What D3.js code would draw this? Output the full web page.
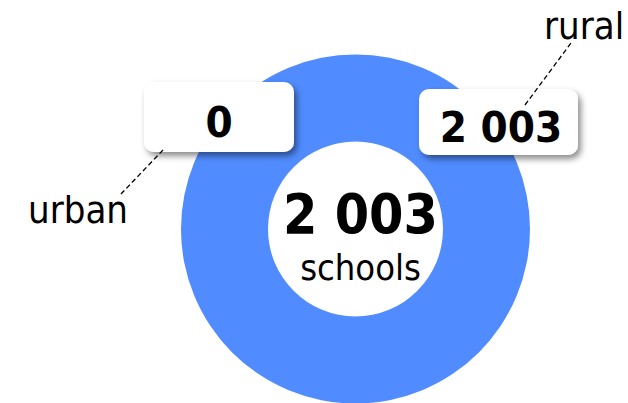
<!DOCTYPE html>
<html>
<head>
<meta charset="utf-8">
<script src="https://cdn.jsdelivr.net/npm/d3@7"></script>
<style>
  html, body { margin: 0; padding: 0; background: #fff; }
  svg { display: block; }
  text { font-family: "DejaVu Sans Condensed", "DejaVu Sans", sans-serif; font-stretch: condensed; }
</style>
</head>
<body>
<div id="chart"></div>
<script>
// data
const categories = ['urban', 'rural'];
const values = [0, 2003];
const unitLabel = 'schools';

const width = 628;
const height = 403;

// layout of the label callouts (box rect, text baseline, leader line, category text)
const callouts = {
  urban: { box: [144, 82, 150, 70], textY: 136.7, line: [[163, 150], [121, 194]], name: [128, 223, 'end'] },
  rural: { box: [419, 89, 159, 66], textY: 141.7, line: [[525, 105], [571, 43]], name: [544, 38.5, 'start'] }
};

const fmt = d3.formatLocale({ decimal: '.', thousands: ' ', grouping: [3], currency: ['', ''] }).format(',');

const svg = d3.select('#chart')
  .append('svg')
  .attr('width', width)
  .attr('height', height);

// drop shadow for the value boxes
const filter = svg.append('defs').append('filter')
  .attr('id', 'shadow')
  .attr('x', '-20%').attr('y', '-20%')
  .attr('width', '140%').attr('height', '160%');
filter.append('feDropShadow')
  .attr('dx', 3).attr('dy', 4)
  .attr('stdDeviation', 3)
  .attr('flood-color', '#000')
  .attr('flood-opacity', 0.45);

const cx = 355.5, cy = 229;
const outerR = 174.5, innerR = 87.5;

const color = d3.scaleOrdinal()
  .domain(categories)
  .range(['#8fb4ff', '#508cff']);

const pie = d3.pie().sort(null).value(d => d.value);
const arc = d3.arc().innerRadius(innerR).outerRadius(outerR);

const slices = pie(categories.map((c, i) => ({ name: c, value: values[i] })));

const g = svg.append('g').attr('transform', `translate(${cx},${cy})`);

g.selectAll('path')
  .data(slices)
  .enter().append('path')
  .attr('d', arc)
  .attr('fill', d => color(d.data.name));

// total in the middle
const total = d3.sum(values);
g.append('text')
  .attr('x', 5)
  .attr('y', 3.7)
  .attr('text-anchor', 'middle')
  .style('font-size', '55px')
  .style('font-weight', 'bold')
  .text(fmt(total));

g.append('text')
  .attr('x', 5)
  .attr('y', 51)
  .attr('text-anchor', 'middle')
  .style('font-size', '36px')
  .text(unitLabel);

// callouts
slices.forEach(s => {
  const c = callouts[s.data.name];
  const [bx, by, bw, bh] = c.box;

  svg.append('rect')
    .attr('x', bx).attr('y', by)
    .attr('width', bw).attr('height', bh)
    .attr('rx', 10).attr('ry', 10)
    .attr('fill', '#fff')
    .attr('filter', 'url(#shadow)');

  svg.append('text')
    .attr('x', bx + bw / 2 + (s.data.name === 'rural' ? 2.5 : 0))
    .attr('y', c.textY)
    .attr('text-anchor', 'middle')
    .style('font-size', '43.5px')
    .style('font-weight', 'bold')
    .text(fmt(s.data.value));

  svg.append('line')
    .attr('x1', c.line[0][0]).attr('y1', c.line[0][1])
    .attr('x2', c.line[1][0]).attr('y2', c.line[1][1])
    .attr('stroke', '#000')
    .attr('stroke-width', 1.3)
    .attr('stroke-dasharray', '5,3');

  svg.append('text')
    .attr('x', c.name[0])
    .attr('y', c.name[1])
    .attr('text-anchor', c.name[2])
    .style('font-size', '38px')
    .text(s.data.name);
});
</script>
</body>
</html>
